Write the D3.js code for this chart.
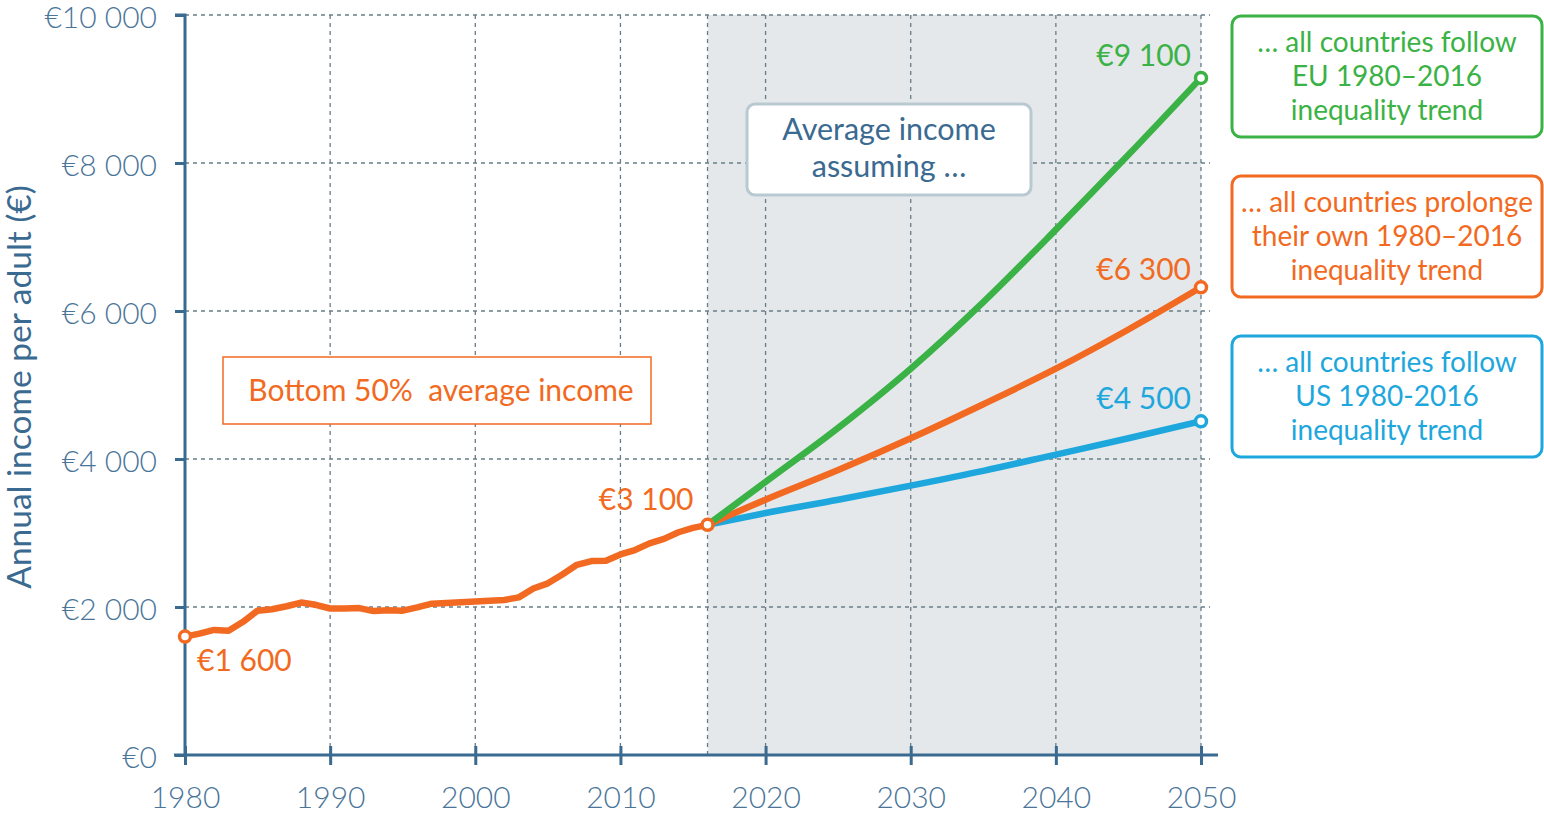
<!DOCTYPE html>
<html><head><meta charset="utf-8">
<script src="https://cdn.jsdelivr.net/npm/d3@7"></script>
<style>
html,body{margin:0;padding:0;background:#fff;}
svg{display:block;font-family:Lato,"Open Sans",sans-serif;}
</style></head><body>
<svg id="c" width="1544" height="813"></svg>
<script>
// ---- data ----
const histYears = [1980,1981,1982,1983,1984,1985,1986,1987,1988,1989,1990,1991,1992,1993,1994,1995,1996,1997,1998,1999,2000,2001,2002,2003,2004,2005,2006,2007,2008,2009,2010,2011,2012,2013,2014,2015,2016];
const histValues = [1600,1640,1690,1680,1800,1950,1970,2010,2060,2030,1980,1980,1985,1945,1955,1950,1995,2045,2055,2065,2075,2085,2095,2130,2250,2320,2440,2570,2620,2625,2710,2770,2860,2920,3010,3070,3110];
const projYears = [2016,2020,2025,2030,2035,2040,2045,2050];
const euValues = [3110,3690,4420,5220,6120,7100,8110,9150];
const ownValues = [3110,3450,3850,4280,4740,5220,5750,6320];
const usValues = [3110,3270,3450,3640,3840,4060,4280,4510];
const xTicks = [1980,1990,2000,2010,2020,2030,2040,2050];
const yTicks = [0,2000,4000,6000,8000,10000];
const yTitle = "Annual income per adult (€)";
const endLabels = [
  {year:1980, value:1600, text:"€1 600", color:"#f26a21"},
  {year:2016, value:3110, text:"€3 100", color:"#f26a21"},
  {year:2050, value:9150, text:"€9 100", color:"#3bb245"},
  {year:2050, value:6320, text:"€6 300", color:"#f26a21"},
  {year:2050, value:4510, text:"€4 500", color:"#1da7dd"}
];
const scenarioBoxes = [
  {lines:["… all countries follow","EU 1980–2016","inequality trend"], color:"#3bb245"},
  {lines:["… all countries prolonge","their own 1980–2016","inequality trend"], color:"#f26a21"},
  {lines:["… all countries follow","US 1980-2016","inequality trend"], color:"#1da7dd"}
];

// ---- styles ----
const ORANGE="#f26a21", GREEN="#3bb245", BLUE="#1da7dd", AXIS="#3b6a91", GRID="#687d88";
const svg = d3.select("#c");
const x = d3.scaleLinear().domain([1980,2050]).range([185,1201]);
const y = d3.scaleLinear().domain([0,10000]).range([755,15]);
const fmt = v => "€" + (v>=1000 ? d3.format(",")(v).replace(/,/g," ") : v);

// shaded projection area
svg.append("rect").attr("x",x(2016)).attr("y",y(10000)).attr("width",x(2050)-x(2016)).attr("height",y(0)-y(10000)).attr("fill","#e4e8eb");

// grid
const g = svg.append("g");
g.selectAll("line.h").data(yTicks.filter(d=>d>0)).join("line")
  .attr("x1",x(1980)).attr("x2",1210).attr("y1",d=>y(d)).attr("y2",d=>y(d))
  .attr("stroke",GRID).attr("stroke-width",1.3).attr("stroke-dasharray","4,4");
g.selectAll("line.v").data(xTicks.filter(d=>d>1980).concat([2016])).join("line")
  .attr("x1",d=>x(d)).attr("x2",d=>x(d)).attr("y1",y(10000)).attr("y2",y(0))
  .attr("stroke",GRID).attr("stroke-width",1.3).attr("stroke-dasharray","4,4");

// axes
const ya = svg.append("g").attr("transform",`translate(${x(1980)},0)`)
  .call(d3.axisLeft(y).tickValues(yTicks).tickFormat(fmt).tickSize(10).tickPadding(18));
ya.select(".domain").attr("stroke",AXIS).attr("stroke-width",3).attr("d",`M-10,${y(10000)}H0V${y(0)}`);
ya.selectAll(".tick line").attr("stroke",AXIS).attr("stroke-width",3);
ya.selectAll(".tick text").attr("fill","#4a7599").attr("font-size",30).attr("font-weight",300).attr("dy","0.4em").attr("font-family","Lato");

const xa = svg.append("g").attr("transform",`translate(0,${y(0)})`)
  .call(d3.axisBottom(x).tickValues(xTicks).tickFormat(d3.format("d")).tickSize(10).tickPadding(22));
xa.select(".domain").attr("stroke",AXIS).attr("stroke-width",3).attr("d",`M174,0H1218`);
xa.selectAll(".tick line").attr("stroke",AXIS).attr("stroke-width",3).attr("y1",-9);
xa.selectAll(".tick text").attr("fill","#4a7599").attr("font-size",30).attr("font-weight",300).attr("font-family","Lato").attr("dy","0.7em");

svg.append("text").attr("transform",`translate(31,${y(5000)+2}) rotate(-90)`).attr("text-anchor","middle")
  .attr("fill",AXIS).attr("font-size",33.5).attr("font-family","Lato").text(yTitle);

// lines
const line = d3.line().x(d=>x(d[0])).y(d=>y(d[1]));
const curve = d3.line().x(d=>x(d[0])).y(d=>y(d[1])).curve(d3.curveMonotoneX);
const series = [
  {data:d3.zip(projYears,usValues), color:BLUE},
  {data:d3.zip(projYears,ownValues), color:ORANGE},
  {data:d3.zip(projYears,euValues), color:GREEN}
];
series.forEach(s=>{
  svg.append("path").attr("d",curve(s.data)).attr("fill","none").attr("stroke",s.color).attr("stroke-width",6.5).attr("stroke-linejoin","round");
});
svg.append("path").attr("d",line(d3.zip(histYears,histValues))).attr("fill","none").attr("stroke",ORANGE).attr("stroke-width",6.5).attr("stroke-linejoin","round");

// markers
const markers = [
  [1980,histValues[0],ORANGE],[2016,histValues[histValues.length-1],ORANGE],
  [2050,euValues[euValues.length-1],GREEN],[2050,ownValues[ownValues.length-1],ORANGE],[2050,usValues[usValues.length-1],BLUE]
];
svg.selectAll("circle.m").data(markers).join("circle")
  .attr("cx",d=>x(d[0])).attr("cy",d=>y(d[1])).attr("r",5.5)
  .attr("fill","#fff").attr("stroke",d=>d[2]).attr("stroke-width",3.5);

// end labels
const lab = [
  {i:0, dx:12, dy:34, anchor:"start"},
  {i:1, dx:-14, dy:-15, anchor:"end"},
  {i:2, dx:-10, dy:-12, anchor:"end"},
  {i:3, dx:-10, dy:-7, anchor:"end"},
  {i:4, dx:-10, dy:-12, anchor:"end"}
];
lab.forEach(l=>{
  const d = endLabels[l.i];
  svg.append("text").attr("x",x(d.year)+l.dx).attr("y",y(d.value)+l.dy).attr("text-anchor",l.anchor)
    .attr("fill",d.color).attr("font-size",30).attr("font-family","Lato").text(d.text);
});

// "Average income assuming ..." box
const ab = svg.append("g");
ab.append("rect").attr("x",747).attr("y",104).attr("width",284).attr("height",91).attr("rx",8)
  .attr("fill","#fff").attr("stroke","#b9c9d1").attr("stroke-width",3);
["Average income","assuming …"].forEach((t,i)=>{
  ab.append("text").attr("x",889).attr("y",140+i*37).attr("text-anchor","middle").attr("fill",AXIS)
    .attr("font-size",30.5).attr("font-family","Lato").text(t);
});

// Bottom 50% box
svg.append("rect").attr("x",223).attr("y",357).attr("width",428).attr("height",67).attr("fill","#fff").attr("stroke",ORANGE).attr("stroke-width",1.5);
svg.append("text").attr("x",441).attr("y",401).attr("text-anchor","middle").attr("fill",ORANGE).attr("font-size",30).attr("font-family","Lato").text("Bottom 50%\u00a0 average income");

// scenario boxes
scenarioBoxes.forEach((b,i)=>{
  const top = 16 + i*160;
  const gb = svg.append("g");
  gb.append("rect").attr("x",1232).attr("y",top).attr("width",310).attr("height",121).attr("rx",9)
    .attr("fill","#fff").attr("stroke",b.color).attr("stroke-width",3);
  b.lines.forEach((t,j)=>{
    gb.append("text").attr("x",1387).attr("y",top+36+j*34).attr("text-anchor","middle").attr("fill",b.color)
      .attr("font-size",28).attr("font-family","Lato").text(t);
  });
});
</script>
</body></html>
